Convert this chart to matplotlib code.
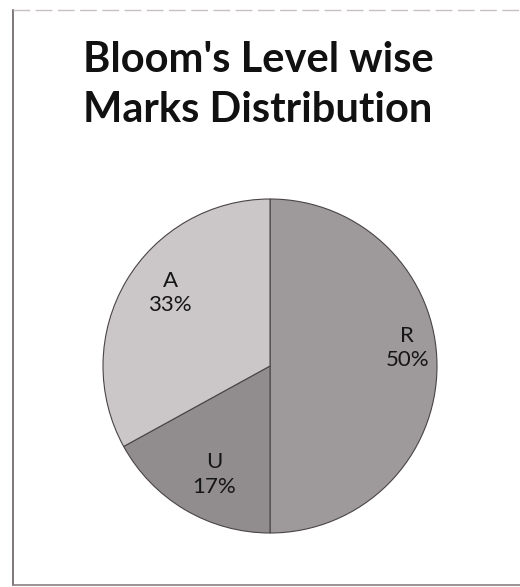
import numpy as np
import matplotlib
matplotlib.use("Agg")
from matplotlib import pyplot as plt

# data
levels = ["R", "U", "A"]
shares = [50, 17, 33]
colours = ["#9e9a9c", "#918d8f", "#cbc7c9"]
label_r = [0.83, 0.73, 0.74]      # how far out each label sits (fraction of radius)
label_turn = [7.5, 3.5, -5.6]     # nudge from the wedge middle, degrees (Excel best fit)

W, H = 520, 587
fig = plt.figure(figsize=(W / 100, H / 100), dpi=100)
fig.patch.set_facecolor("white")

# scanned frame: left, top and bottom edges
frame = fig.add_axes([0, 0, 1, 1])
frame.set_xlim(0, W)
frame.set_ylim(H, 0)
frame.axis("off")
frame.plot([13, 13], [10, 585], color="#6a6060", lw=1.2)
frame.plot([13, W], [10, 10], color="#c8c0c0", lw=1.0, ls=(0, (12, 4)))
frame.plot([13, W], [585, 585], color="#8a8080", lw=1.2)

# title
for txt, y in [("Bloom's Level wise", 60), ("Marks Distribution", 110)]:
    fig.text(258 / W, 1 - y / H, txt, ha="center", va="center",
             fontsize=30, fontweight="bold", family=["Lato", "DejaVu Sans"], color="#111111")

# pie, centre (270, 366) px, radius 167 px
cx, cy, rad = 270, 366, 167
ax = fig.add_axes([(cx - rad) / W, (H - cy - rad) / H, 2 * rad / W, 2 * rad / H])
wedges, _ = ax.pie(shares, colors=colours, startangle=90, counterclock=False,
                   wedgeprops=dict(edgecolor="#4a4444", linewidth=0.8))
ax.set_xlim(-1, 1)
ax.set_ylim(-1, 1)
ax.set_aspect("equal")

for w, name, val, r, turn in zip(wedges, levels, shares, label_r, label_turn):
    mid = np.deg2rad((w.theta1 + w.theta2) / 2 + turn)
    ax.text(r * np.cos(mid), r * np.sin(mid), "{}\n{}%".format(name, val),
            ha="center", va="center", fontsize=16, linespacing=1.3,
            family=["Lato", "DejaVu Sans"], color="#151515")

fig.savefig("out.png", dpi=100)
